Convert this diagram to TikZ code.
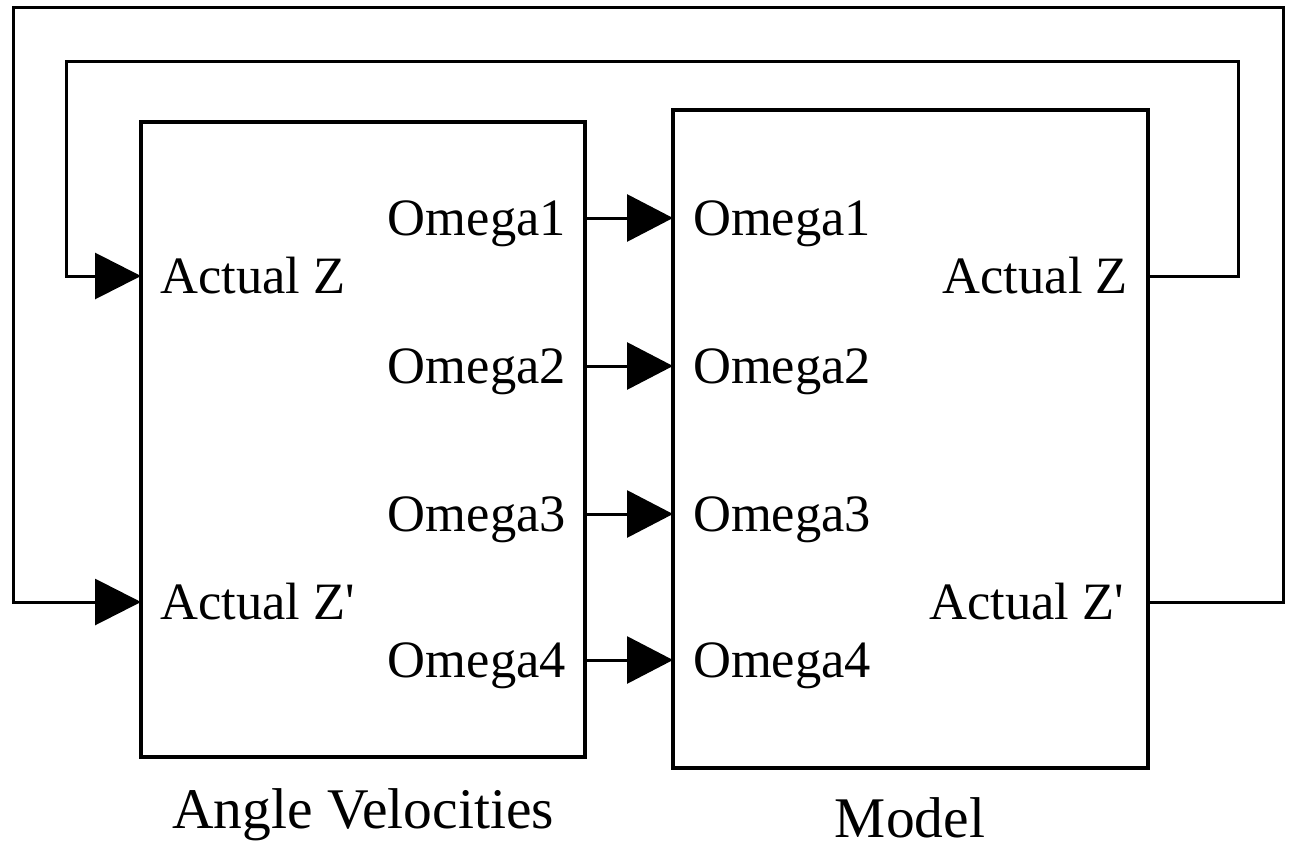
\documentclass[tikz,border=0pt]{standalone}
\usepackage{fontspec}
\setmainfont{Liberation Serif}
\usetikzlibrary{arrows.meta}
\begin{document}
\begin{tikzpicture}[x=1pt,y=-1pt,
  block/.style={draw,line width=4pt,rectangle,inner sep=0pt,outer sep=0pt},
  port/.style={inner sep=0pt,font=\fontsize{52.5}{60}\selectfont},
  caption/.style={inner sep=0pt,anchor=base,font=\fontsize{57.5}{66}\selectfont},
  wire/.style={line width=3pt,-{Triangle[length=46pt,width=47pt]}},
  loop/.style={line width=3pt,-{Triangle[length=46pt,width=46pt]}}]
\useasboundingbox (0,0) rectangle (1291,843);

% the two blocks
\node[block,minimum width=444pt,minimum height=635pt] (av) at (363,439.5) {};
\node[block,minimum width=475pt,minimum height=658pt] (md) at (910.5,439) {};

% signal rows
\coordinate (r1) at (0,218);
\coordinate (r2) at (0,366);
\coordinate (r3) at (0,514);
\coordinate (r4) at (0,660);
\coordinate (rz) at (0,276);
\coordinate (rzp) at (0,602);

% port labels of the Angle Velocities block
\node[port,anchor=base west] (avz) at (160,293.4) {Actual Z};
\node[port,anchor=base west] (avzp) at (160,619.4) {Actual Z\textquotesingle};
\node[port,anchor=base east] (avo1) at (566,235.4) {Omega1};
\node[port,anchor=base east] (avo2) at (566,383.4) {Omega2};
\node[port,anchor=base east] (avo3) at (566,531.4) {Omega3};
\node[port,anchor=base east] (avo4) at (566,677.4) {Omega4};

% port labels of the Model block
\node[port,anchor=base west] (mdo1) at (693,235.4) {Omega1};
\node[port,anchor=base west] (mdo2) at (693,383.4) {Omega2};
\node[port,anchor=base west] (mdo3) at (693,531.4) {Omega3};
\node[port,anchor=base west] (mdo4) at (693,677.4) {Omega4};
\node[port,anchor=base east] (mdz) at (1128,293.4) {Actual Z};
\node[port,anchor=base east] (mdzp) at (1124,619.4) {Actual Z\textquotesingle};

% block captions
\node[caption] (avcap) at (363,828) {Angle Velocities};
\node[caption] (mdcap) at (910,837) {Model};

% Omega connections
\draw[wire] (av.east |- r1) -- (md.west |- r1);
\draw[wire] (av.east |- r2) -- (md.west |- r2);
\draw[wire] (av.east |- r3) -- (md.west |- r3);
\draw[wire] (av.east |- r4) -- (md.west |- r4);

% feedback loops
\coordinate (inR) at (1238,62);
\coordinate (inL) at (66,276);
\coordinate (outR) at (1283,8);
\coordinate (outL) at (13,602);
\draw[loop] (md.east |- rz) -| (inR) -| (inL) -- (av.west |- rz);
\draw[loop] (md.east |- rzp) -| (outR) -| (outL) -- (av.west |- rzp);
\end{tikzpicture}
\end{document}
